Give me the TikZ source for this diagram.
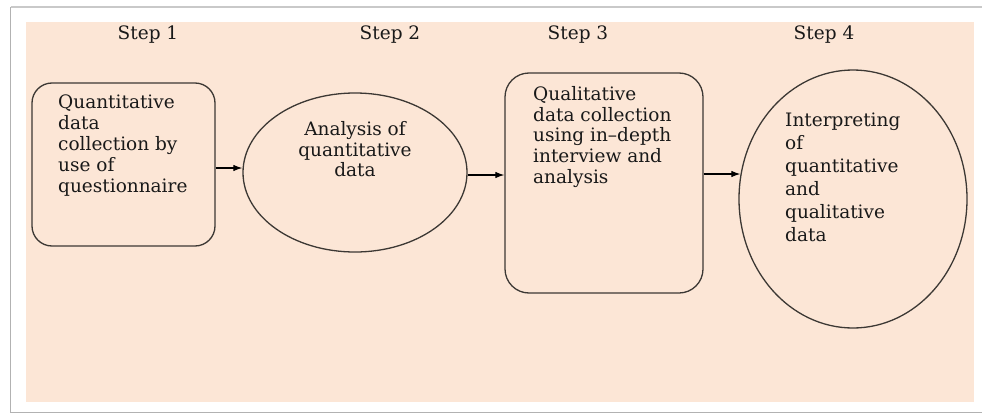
\documentclass[tikz,border=0pt]{standalone}
\usepackage{fontspec}
\setmainfont{DejaVu Serif}
\usetikzlibrary{arrows.meta,shapes.geometric}
\definecolor{peach}{RGB}{252,230,214}
\definecolor{outline}{RGB}{60,56,52}
\definecolor{frame}{RGB}{178,178,178}
\begin{document}
\begin{tikzpicture}[x=1pt,y=-1pt,
  txt/.style={font=\fontsize{18.5}{20.8}\selectfont, inner sep=0pt, text=black!90},
  steplbl/.style={txt, anchor=center},
  roundbox/.style={draw=outline, line width=1.3pt, rounded corners=#1, inner sep=0pt},
  oval/.style={draw=outline, line width=1.3pt, ellipse, inner sep=0pt},
  arr/.style={line width=1.1pt, draw=black, -{Latex[length=9pt,width=6.5pt]}}]
  % page and frame
  \useasboundingbox (0,0) rectangle (982,415);
  \fill[white] (0,0) rectangle (982,415);
  \draw[frame, line width=1.6pt] (10.5,7) -- (10.5,412.5) -- (990,412.5);
  \draw[frame!70, line width=1.2pt] (10.5,7) -- (990,7);
  \fill[peach] (26,22) rectangle (974,402);

  % step headings
  \node[steplbl] (s1) at (148,35) {Step 1};
  \node[steplbl] (s2) at (390,35) {Step 2};
  \node[steplbl] (s3) at (578,35) {Step 3};
  \node[steplbl] (s4) at (824,35) {Step 4};

  % step 1
  \node[roundbox=20pt, minimum width=183pt, minimum height=163pt] (b1) at (123.5,164.5) {};
  \node[txt, anchor=north west, align=left] (t1) at (58,95)
    {Quantitative\\data\\collection by\\use of\\questionnaire};

  % step 2
  \node[oval, minimum width=224pt, minimum height=159pt] (e2) at (355,172.5) {};
  \node[txt, anchor=north, align=center] (t2) at (355,121)
    {Analysis of\\quantitative\\data};

  % step 3
  \node[roundbox=24pt, minimum width=198pt, minimum height=220pt] (b3) at (604,183) {};
  \node[txt, anchor=north west, align=left] (t3) at (533,86)
    {Qualitative\\data collection\\using in--depth\\interview and\\analysis};

  % step 4
  \node[oval, minimum width=228pt, minimum height=258pt] (e4) at (853,199) {};
  \node[txt, anchor=north west, align=left, font=\fontsize{18.5}{23}\selectfont] (t4) at (785,113)
    {Interpreting\\of\\quantitative\\and\\qualitative\\data};

  % connectors
  \draw[arr] ([yshift=-3.5pt]b1.east) -- ([yshift=-3.5pt]b1.east -| e2.west);
  \draw[arr] ([yshift=-2.5pt]e2.east) -- ([yshift=-2.5pt]e2.east -| b3.west);
  \coordinate (a3) at ([yshift=9pt]b3.east);
  \draw[arr] (a3) -- ([xshift=2pt]a3 -| e4.west);
\end{tikzpicture}
\end{document}
